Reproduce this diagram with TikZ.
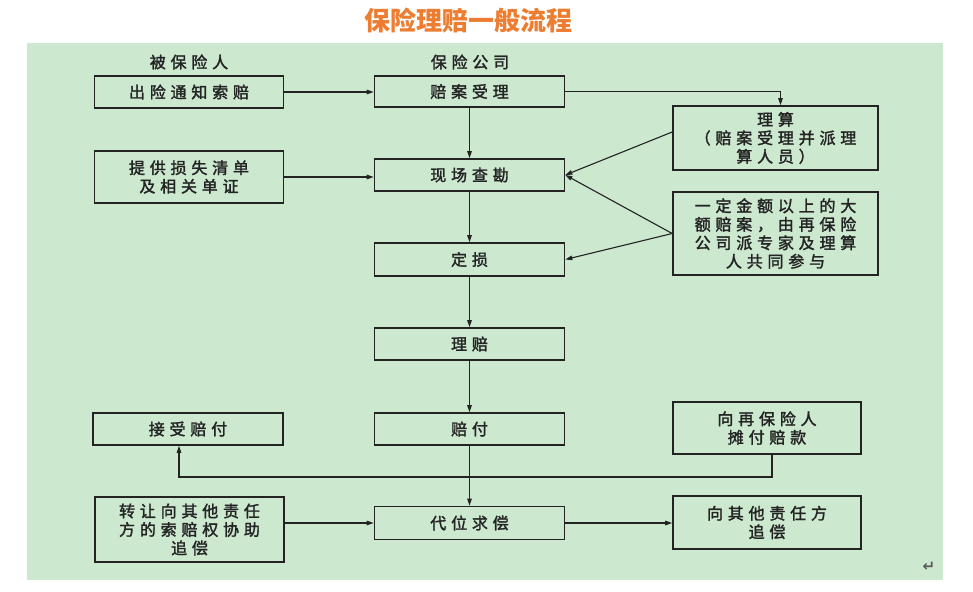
\documentclass[tikz,border=0pt]{standalone}
\usepackage{fontspec}
\usetikzlibrary{arrows.meta}
\newfontfamily\cjk{Noto Sans CJK SC}[LetterSpace=30,FakeBold=1.8]
\newfontfamily\cjkt{Noto Sans CJK SC}
\newfontfamily\symfont{DejaVu Sans}
\definecolor{panel}{RGB}{204,232,207}
\definecolor{titleorange}{RGB}{237,125,49}
\definecolor{ink}{RGB}{35,35,35}
\begin{document}
\begin{tikzpicture}[x=1pt,y=-1pt,
  box/.style={draw=ink,line width=1.6pt,inner sep=0pt,align=center,text=ink,
    font=\cjk\fontsize{16}{18.5}\selectfont},
  lbl/.style={inner sep=0pt,text=ink,font=\cjk\fontsize{16}{18.5}\selectfont},
  arr/.style={draw=ink,line width=1.1pt,-{Triangle[length=7pt,width=4.5pt]}},
  conn/.style={draw=ink,line width=1.1pt}]
\useasboundingbox (0,0) rectangle (973,591);
\fill[panel] (27,43) rectangle (943,580);
\node[inner sep=0pt,text=titleorange,font=\cjkt\bfseries\fontsize{26}{28}\selectfont] (title) at (468,21) {保险理赔一般流程};
\node[lbl] (h1) at (189,62) {被保险人};
\node[lbl] (h2) at (470,62) {保险公司};
\node[box,minimum width=189,minimum height=32] (a1) at (189,92) {出险通知索赔};
\node[box,minimum width=189,minimum height=52] (a2) at (189,177) {提供损失清单\\及相关单证};
\node[box,minimum width=190,minimum height=31] (b1) at (469.5,91.5) {赔案受理};
\node[box,minimum width=190,minimum height=32] (b2) at (469.5,175) {现场查勘};
\node[box,minimum width=190,minimum height=33] (b3) at (469.5,259.5) {定损};
\node[box,minimum width=190,minimum height=32] (b4) at (469.5,344) {理赔};
\node[box,minimum width=190,minimum height=32] (b5) at (469.5,429) {赔付};
\node[box,minimum width=190,minimum height=33] (b6) at (469.5,523) {代位求偿};
\node[box,minimum width=205,minimum height=64] (c1) at (775.5,138) {理算\\（赔案受理并派理\\算人员）};
\node[box,minimum width=205,minimum height=83] (c2) at (775.5,233.5) {一定金额以上的大\\额赔案，由再保险\\公司派专家及理算\\人共同参与};
\node[box,minimum width=188,minimum height=52] (c3) at (767,428) {向再保险人\\摊付赔款};
\node[box,minimum width=188,minimum height=53] (c4) at (767,522.5) {向其他责任方\\追偿};
\node[box,minimum width=190,minimum height=32] (a3) at (188,429) {接受赔付};
\node[box,minimum width=189,minimum height=65] (a4) at (189.5,529.5) {转让向其他责任\\方的索赔权协助\\追偿};
\node[inner sep=0pt,text=black!65,font=\symfont\bfseries\fontsize{15}{15}\selectfont] (ret) at (929,567) {↵};
% connectors
\draw[arr] (a1.east) -- (a1.east -| b1.west);
\draw[arr] (a2.east) -- (a2.east -| b2.west);
\draw[arr] (b1) -- (b2);
\draw[arr] (b2) -- (b3);
\draw[arr] (b3) -- (b4);
\draw[arr] (b4) -- (b5);
\draw[arr] (b5) -- (b6);
\coordinate (c1top) at ([xshift=5pt]c1.north);
\draw[arr] (b1.east) -| (c1top);
\draw[arr] ([yshift=6pt]c1.west) -- (b2.east);
\draw[arr] (c2.west) -- (b2.east);
\draw[arr] (c2.west) -- (b3.east);
\coordinate (hy) at (0,477);
\coordinate (c3bot) at ([xshift=5pt]c3.south);
\coordinate (a3bot) at ([xshift=-9pt]a3.south);
\draw[arr] (c3bot) |- (a3bot |- hy) -- (a3bot);
\draw[arr] (a4.east |- b6.west) -- (b6.west);
\draw[arr] (b6.east) -- (b6.east -| c4.west);
\end{tikzpicture}
\end{document}
